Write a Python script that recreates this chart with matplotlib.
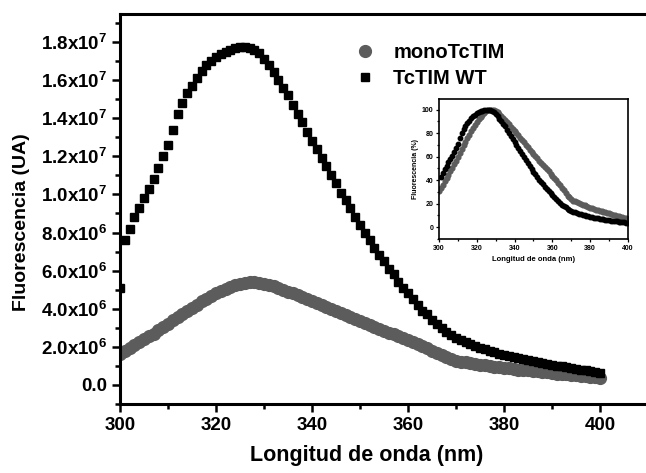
import numpy as np
import matplotlib
matplotlib.use("Agg")
import matplotlib.pyplot as plt
from matplotlib.ticker import MultipleLocator, FuncFormatter

plt.rcParams['font.family'] = ['Liberation Sans', 'DejaVu Sans']
plt.rcParams['mathtext.fontset'] = 'custom'
plt.rcParams['mathtext.rm'] = 'Liberation Sans:bold'
plt.rcParams['mathtext.bf'] = 'Liberation Sans:bold'
plt.rcParams['mathtext.it'] = 'Liberation Sans:bold'
plt.rcParams['mathtext.default'] = 'bf'

# wavelength (nm)
wavelength = np.arange(300, 401, 1)

# TcTIM WT fluorescence (x1e6 UA)
wt = [5.1, 7.6, 8.2, 8.8, 9.3, 9.8, 10.3, 10.8, 11.4, 12.0,
      12.6, 13.4, 14.2, 14.8, 15.3, 15.7, 16.1, 16.5, 16.8, 17.0,
      17.2, 17.35, 17.5, 17.6, 17.7, 17.75, 17.75, 17.7, 17.6, 17.4,
      17.1, 16.8, 16.4, 16.0, 15.6, 15.2, 14.7, 14.2, 13.8, 13.3,
      12.8, 12.4, 11.9, 11.5, 11.0, 10.6, 10.1, 9.7, 9.3, 8.8,
      8.4, 8.0, 7.6, 7.2, 6.8, 6.5, 6.1, 5.8, 5.4, 5.1,
      4.8, 4.5, 4.2, 3.9, 3.7, 3.4, 3.2, 3.0, 2.8, 2.6,
      2.45, 2.35, 2.25, 2.15, 2.05, 1.95, 1.87, 1.8, 1.72, 1.65,
      1.58, 1.52, 1.46, 1.40, 1.35, 1.30, 1.25, 1.20, 1.15, 1.10,
      1.05, 1.01, 0.97, 0.93, 0.89, 0.85, 0.81, 0.77, 0.73, 0.69,
      0.65]

# monoTcTIM fluorescence (x1e6 UA)
mono = [1.65, 1.8, 1.95, 2.1, 2.25, 2.4, 2.55, 2.7, 2.88, 3.05,
        3.22, 3.4, 3.57, 3.74, 3.9, 4.06, 4.22, 4.38, 4.53, 4.67,
        4.8, 4.93, 5.05, 5.15, 5.24, 5.3, 5.35, 5.38, 5.38, 5.36,
        5.32, 5.26, 5.18, 5.1, 5.0, 4.9, 4.8, 4.7, 4.6, 4.5,
        4.4, 4.3, 4.2, 4.1, 4.0, 3.9, 3.78, 3.66, 3.55, 3.45,
        3.35, 3.25, 3.15, 3.05, 2.95, 2.85, 2.75, 2.65, 2.55, 2.45,
        2.35, 2.25, 2.14, 2.03, 1.92, 1.8, 1.68, 1.56, 1.45, 1.36,
        1.28, 1.22, 1.18, 1.14, 1.1, 1.06, 1.03, 1.0, 0.96, 0.93,
        0.9, 0.87, 0.84, 0.81, 0.79, 0.76, 0.73, 0.71, 0.68, 0.66,
        0.63, 0.6, 0.58, 0.55, 0.52, 0.5, 0.48, 0.45, 0.43, 0.4,
        0.38]

wt = np.array(wt) * 1e6
mono = np.array(mono) * 1e6

labels = ['monoTcTIM', 'TcTIM WT']
gray = '#5c5c5c'

fig = plt.figure(figsize=(6.46, 4.73), dpi=100)
ax = fig.add_axes([120/646, 1-404/473, 1-120/646, (404-14)/473])

ax.plot(wavelength, mono, 'o', color=gray, ms=8.5, mec=gray, label=labels[0], zorder=2)
ax.plot(wavelength, wt, 's', color='black', ms=6.3, mec='black', label=labels[1], zorder=3)

ax.set_xlim(300, 409.6)
ax.set_ylim(-1.0e6, 1.947e7)
ax.xaxis.set_major_locator(MultipleLocator(20))
ax.xaxis.set_minor_locator(MultipleLocator(10))
ax.yaxis.set_major_locator(MultipleLocator(2e6))
ax.yaxis.set_minor_locator(MultipleLocator(1e6))

def yfmt(v, pos):
    if abs(v) < 1:
        return '0.0'
    e = int(np.floor(np.log10(abs(v))))
    m = v / 10**e
    return '%.1fx10$^{%d}$' % (m, e)

ax.yaxis.set_major_formatter(FuncFormatter(yfmt))

for s in ['left', 'bottom', 'top']:
    ax.spines[s].set_linewidth(2.2)
ax.spines['right'].set_visible(False)
ax.tick_params(which='major', direction='out', length=6, width=1.8, labelsize=13.5, pad=3)
ax.tick_params(which='minor', direction='out', length=3.5, width=1.8)
ax.tick_params(top=False, right=False)
for t in ax.get_xticklabels() + ax.get_yticklabels():
    t.set_fontweight('bold')

ax.set_xlabel('Longitud de onda (nm)', fontsize=15.5, fontweight='bold')
ax.xaxis.set_label_coords((367-120)/526, -(445-404)/390)
ax.set_ylabel('Fluorescencia (UA)', fontsize=14, fontweight='bold')
ax.yaxis.set_label_coords(-(120-30)/526, (404-222)/390)

leg = ax.legend(loc='upper left', bbox_to_anchor=((355-120)/526, 1-(43-14)/390),
                frameon=False, prop={'weight': 'bold', 'size': 14.5},
                handletextpad=0.9, labelspacing=0.35, handlelength=1.0,
                borderaxespad=0, borderpad=0)

# inset
axi = fig.add_axes([439/646, 1-239/473, (628-439)/646, (239-99)/473])
mask = wavelength > 300
axi.plot(wavelength[mask], wt[mask] / wt.max() * 100, 'o', color='black', ms=3.2, mec='black', zorder=3)
axi.plot(wavelength, mono / mono.max() * 100, 'o', color=gray, ms=3.4, mec=gray, zorder=2)
axi.set_xlim(300, 400)
axi.set_ylim(-10, 109)
axi.xaxis.set_major_locator(MultipleLocator(20))
axi.xaxis.set_minor_locator(MultipleLocator(10))
axi.yaxis.set_major_locator(MultipleLocator(20))
axi.yaxis.set_minor_locator(MultipleLocator(10))
for s in axi.spines.values():
    s.set_linewidth(1.2)
axi.tick_params(which='major', direction='out', length=2.5, width=0.9, labelsize=5, pad=1.5)
axi.tick_params(which='minor', direction='out', length=1.5, width=0.9)
for t in axi.get_xticklabels() + axi.get_yticklabels():
    t.set_fontweight('bold')
axi.set_xlabel('Longitud de onda (nm)', fontsize=5.5, fontweight='bold', labelpad=3)
axi.set_ylabel('Fluorescencia (%)', fontsize=5, fontweight='bold', labelpad=2)

fig.savefig('out.png', dpi=100)
